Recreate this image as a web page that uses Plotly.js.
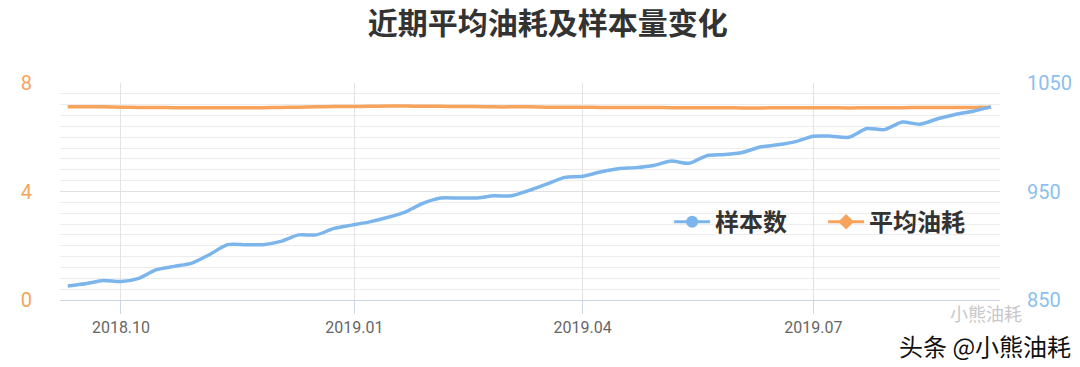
<!DOCTYPE html>
<html>
<head>
<meta charset="utf-8">
<script src="https://cdn.plot.ly/plotly-3.0.1.min.js"></script>
<style>html,body{margin:0;padding:0;background:#fff;}#chart{width:1080px;height:367px;}</style>
</head>
<body>
<div id="chart"></div>
<script>
const titleText = "近期平均油耗及样本量变化";
const seriesNames = ["样本数", "平均油耗"];
const dates = [
 "2018-09-10","2018-09-17","2018-09-24","2018-10-01","2018-10-08","2018-10-15","2018-10-22","2018-10-29",
 "2018-11-05","2018-11-12","2018-11-19","2018-11-26","2018-12-03","2018-12-10","2018-12-17","2018-12-24","2018-12-31",
 "2019-01-07","2019-01-14","2019-01-21","2019-01-28","2019-02-04","2019-02-11","2019-02-18","2019-02-25",
 "2019-03-04","2019-03-11","2019-03-18","2019-03-25","2019-04-01","2019-04-08","2019-04-15","2019-04-22","2019-04-29",
 "2019-05-06","2019-05-13","2019-05-20","2019-05-27","2019-06-03","2019-06-10","2019-06-17","2019-06-24",
 "2019-07-01","2019-07-08","2019-07-15","2019-07-22","2019-07-29","2019-08-05","2019-08-12","2019-08-19","2019-08-26",
 "2019-09-02","2019-09-09"
];
const sampleCount = [863,865,868,867,870,878,881,884,892,901,901,901,904,910,910,916,919,922,926,931,939,944,944,944,946,946,951,957,963,964,968,971,972,974,978,976,983,984,986,991,993,996,1001,1001,1000,1008,1007,1014,1012,1017,1021,1024,1028];
const avgFuel = [7.12,7.12,7.12,7.11,7.10,7.10,7.09,7.09,7.09,7.09,7.09,7.09,7.10,7.11,7.12,7.13,7.13,7.14,7.15,7.15,7.14,7.14,7.13,7.13,7.12,7.12,7.12,7.11,7.11,7.11,7.10,7.10,7.10,7.10,7.09,7.09,7.09,7.09,7.08,7.08,7.09,7.09,7.09,7.09,7.08,7.09,7.09,7.09,7.10,7.10,7.10,7.10,7.11];
const tickDates = ["2018-10-01","2019-01-01","2019-04-01","2019-07-01"];
const tickLabels = ["2018.10","2019.01","2019.04","2019.07"];
const leftTicks = [0,4,8];
const rightTicks = [850,950,1050];
const watermarks = ["小熊油耗", "头条 @小熊油耗"];

const BLUE = "#7cb5ec", ORANGE = "#f7a35c";
const FONT = "Roboto, 'Noto Sans CJK SC', sans-serif";
const CJK = "'Noto Sans CJK SC', sans-serif";

const traces = [
  {x: dates, y: sampleCount, yaxis: "y2", type: "scatter", mode: "lines", name: seriesNames[0],
   line: {color: BLUE, width: 3.5, shape: "spline", smoothing: 0.7}, showlegend: false, hoverinfo: "skip"},
  {x: dates, y: avgFuel, yaxis: "y", type: "scatter", mode: "lines", name: seriesNames[1],
   line: {color: ORANGE, width: 3.5, shape: "spline", smoothing: 0.7}, showlegend: false, hoverinfo: "skip"},
  {x: [null], y: [null], yaxis: "y2", type: "scatter", mode: "lines+markers", name: seriesNames[0],
   line: {color: BLUE, width: 3}, marker: {color: BLUE, size: 12, symbol: "circle"}},
  {x: [null], y: [null], yaxis: "y", type: "scatter", mode: "lines+markers", name: seriesNames[1],
   line: {color: ORANGE, width: 3}, marker: {color: ORANGE, size: 12, symbol: "diamond"}}
];

const layout = {
  width: 1080, height: 367,
  margin: {l: 60, r: 80, t: 83, b: 67, pad: 0},
  paper_bgcolor: "#fff", plot_bgcolor: "#fff",
  font: {family: FONT, color: "#666"},
  title: {text: titleText, x: 0.519, xanchor: "center", xref: "paper", y: 1 - 23/367, yref: "container", yanchor: "middle",
          font: {family: CJK, size: 30, color: "#333", weight: "bold"}},
  xaxis: {type: "date", range: ["2018-09-06 23:00", "2019-09-12 14:00"],
          tickvals: tickDates, ticktext: tickLabels,
          showgrid: true, gridcolor: "#e3e3e3", gridwidth: 1,
          ticks: "outside", ticklen: 13, tickcolor: "#ccd6eb",
          showline: true, linecolor: "#ccd6eb", linewidth: 1,
          zeroline: false, tickfont: {size: 16, color: "#666"}, fixedrange: true},
  yaxis: {range: [0, 8], tickvals: leftTicks, showgrid: true, gridcolor: "#e0e0e0", gridwidth: 1,
          minor: {dtick: 0.4, showgrid: true, gridcolor: "#ececec", gridwidth: 1},
          zeroline: false, showline: false, ticks: "", ticklabelstandoff: 27,
          tickfont: {size: 20, color: ORANGE}, fixedrange: true},
  yaxis2: {range: [850, 1050], tickvals: rightTicks, overlaying: "y", side: "right", showgrid: false,
           zeroline: false, showline: false, ticks: "", ticklabelstandoff: 26,
           tickfont: {size: 20, color: "#8cbfee"}, fixedrange: true},
  legend: {orientation: "h", x: 0.648, xanchor: "left", y: 0.359, yanchor: "middle",
           bgcolor: "rgba(0,0,0,0)", borderwidth: 0, entrywidth: 103, entrywidthmode: "pixels",
           font: {family: CJK, size: 24, color: "#333", weight: "bold"}, itemwidth: 36},
  annotations: [
    {text: watermarks[0], xref: "paper", yref: "paper", x: 1.026, y: -0.06, xanchor: "right", yanchor: "middle",
     showarrow: false, font: {family: CJK, size: 18, color: "#c8c8c8"}},
    {text: watermarks[1], xref: "paper", yref: "paper", x: 1.0777, y: -0.21, xanchor: "right", yanchor: "middle",
     showarrow: false, font: {family: CJK, size: 24, color: "#111"}}
  ]
};

Plotly.newPlot("chart", traces, layout, {displayModeBar: false, staticPlot: true});
</script>
</body>
</html>
